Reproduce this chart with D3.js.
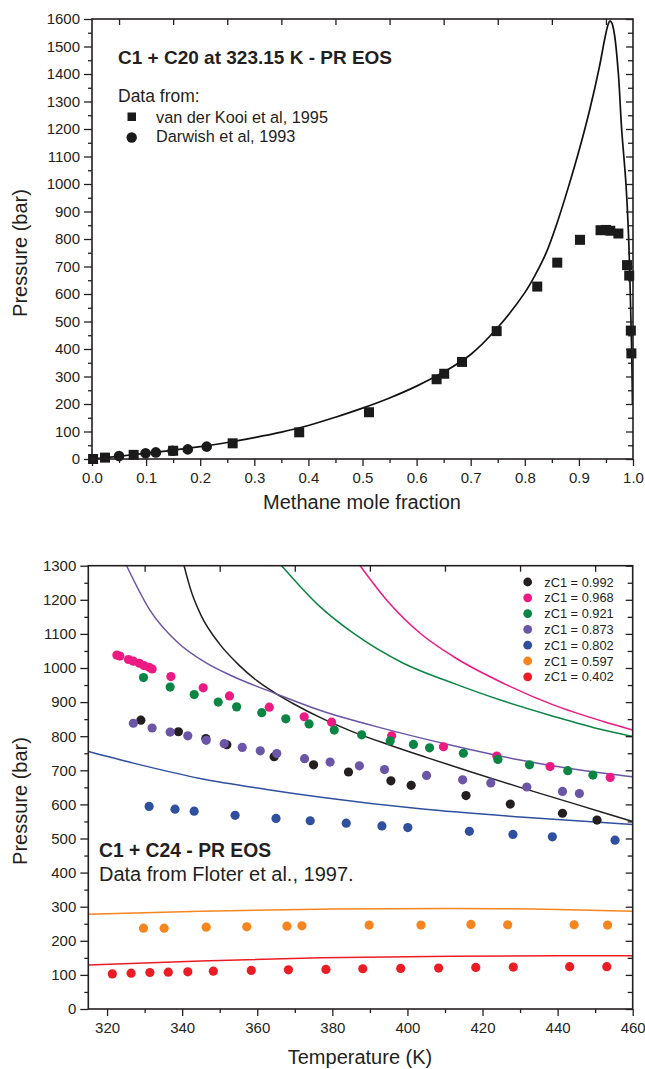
<!DOCTYPE html>
<html>
<head>
<meta charset="utf-8">
<script src="https://cdn.jsdelivr.net/npm/d3@7"></script>
<style>
  body { margin: 0; background: #fff; }
  svg { display: block; }
  text { font-family: "Liberation Sans", Arial, Helvetica, sans-serif; fill: #231f20; }
</style>
</head>
<body>
<svg id="fig" width="645" height="1069"></svg>
<script>
// ---------- Panel 1: C1 + C20 at 323.15 K ----------
// van der Kooi et al, 1995 (squares)
const kooiX = [0.002, 0.024, 0.077, 0.150, 0.260, 0.383, 0.512, 0.637, 0.651, 0.684, 0.748, 0.823, 0.860, 0.902, 0.940, 0.950, 0.958, 0.973, 0.989, 0.993, 0.996, 0.997];
const kooiP = [0, 5, 15, 30, 57, 97, 170, 290, 310, 353, 465, 627, 714, 797, 832, 833, 830, 820, 705, 667, 467, 384];
// Darwish et al, 1993 (circles)
const darwishX = [0.050, 0.099, 0.118, 0.149, 0.177, 0.212];
const darwishP = [11, 21, 24, 30, 35, 45];
// PR EOS phase envelope
const prC20X = [0, 0.05, 0.10, 0.15, 0.20, 0.25, 0.30, 0.35, 0.40, 0.45, 0.50, 0.55, 0.60, 0.65, 0.70, 0.75, 0.80, 0.82, 0.84, 0.86, 0.88, 0.90, 0.92, 0.938, 0.948, 0.954, 0.9575, 0.961, 0.966, 0.973, 0.979, 0.987, 0.992, 0.995, 0.9975, 0.999];
const prC20P = [0, 10, 21, 32, 45, 60, 78, 98, 122, 152, 185, 222, 265, 316, 380, 478, 605, 672, 752, 860, 985, 1120, 1270, 1427, 1530, 1580, 1593, 1585, 1540, 1400, 1200, 1000, 800, 600, 400, 200];

const p1XTicks = [0, 0.1, 0.2, 0.3, 0.4, 0.5, 0.6, 0.7, 0.8, 0.9, 1.0];
const p1YTicks = d3.range(0, 1601, 100);

// ---------- Panel 2: C1 + C24, Floter et al., 1997 ----------
const seriesNames = ["zC1 = 0.992", "zC1 = 0.968", "zC1 = 0.921", "zC1 = 0.873", "zC1 = 0.802", "zC1 = 0.597", "zC1 = 0.402"];
const seriesColors = ["#231f20", "#ec1a82", "#0b8543", "#6b55a6", "#2f4f9f", "#f6851f", "#ec1c24"];

// measured points (temperature K, pressure bar)
const expT992 = [329.0, 339.0, 346.3, 351.9, 364.5, 375.0, 384.3, 395.6, 401.0, 415.6, 427.4, 441.3, 450.5];
const expP992 = [847, 813, 793, 775, 740, 716, 695, 669, 656, 626, 601, 574, 554];
const expT968 = [322.6, 323.4, 325.7, 327.0, 328.6, 329.8, 331.2, 332.0, 337.0, 345.6, 352.6, 363.2, 372.5, 379.8, 395.8, 409.6, 423.8, 438.0, 454.0];
const expP968 = [1038, 1035, 1025, 1020, 1014, 1007, 1002, 997, 975, 942, 918, 885, 857, 841, 801, 769, 742, 711, 679];
const expT921 = [329.7, 336.8, 343.2, 349.6, 354.5, 361.2, 367.6, 373.8, 380.5, 387.8, 395.4, 401.6, 405.9, 414.9, 424.1, 432.5, 442.7, 449.4];
const expP921 = [972, 944, 922, 900, 886, 869, 851, 836, 818, 804, 786, 776, 766, 750, 732, 716, 699, 686];
const expT873 = [327.0, 332.0, 336.8, 341.5, 346.4, 351.2, 356.0, 360.8, 365.2, 372.6, 379.4, 387.2, 393.9, 405.1, 414.7, 422.2, 431.8, 441.3, 445.8];
const expP873 = [838, 824, 812, 801, 788, 778, 767, 757, 749, 734, 724, 713, 702, 685, 672, 663, 651, 638, 632];
const expT802 = [331.2, 338.1, 343.2, 354.1, 365.0, 374.1, 383.7, 393.2, 400.1, 416.5, 428.1, 438.6, 455.3];
const expP802 = [594, 586, 580, 568, 559, 552, 545, 537, 532, 521, 512, 505, 495];
const expT597 = [329.7, 335.2, 346.4, 357.2, 367.9, 371.9, 389.8, 403.6, 416.9, 426.7, 444.4, 453.3];
const expP597 = [237, 237, 240, 241, 243, 244, 246, 246, 248, 247, 247, 246];
const expT402 = [321.4, 326.4, 331.4, 336.3, 341.5, 348.3, 358.4, 368.3, 378.3, 388.1, 398.2, 408.3, 418.2, 428.2, 443.2, 453.1];
const expP402 = [103, 105, 107, 108, 109, 111, 113, 115, 116, 118, 119, 120, 122, 123, 124, 124];

// PR EOS predictions
const eosT992 = [340.5, 342.5, 345, 350, 355, 360, 365, 370, 376.7, 385, 395, 405, 417, 430, 445, 460];
const eosP992 = [1300, 1222, 1155, 1070, 1010, 962, 925, 893, 855, 815, 775, 738, 695, 650, 600, 550];
const eosT968 = [387.4, 394.5, 403.4, 412.3, 425.6, 439, 452.2, 460];
const eosP968 = [1300, 1199, 1102, 1033, 955, 891, 843, 818];
const eosT921 = [366.5, 376.7, 385.6, 398.9, 412.3, 425.6, 439, 452.2, 460];
const eosP921 = [1300, 1180, 1102, 1014, 955, 903, 858, 818, 799];
const eosT873 = [325.2, 331.4, 338.6, 346.5, 353.6, 365.6, 376.7, 394.5, 412.3, 430, 447.8, 460];
const eosP873 = [1300, 1170, 1077, 1014, 975, 922, 876, 820, 772, 730, 698, 681];
const eosT802 = [315, 327, 344.8, 362.5, 377, 403.4, 430, 460];
const eosP802 = [755, 721, 676, 644, 621, 587, 563, 541];
const eosT597 = [315, 345, 380, 412, 440, 460];
const eosP597 = [278, 287, 293, 295, 292, 287];
const eosT402 = [315, 345, 377, 412, 440, 460];
const eosP402 = [129, 141, 150, 155, 156, 156];

const p2XTicks = d3.range(320, 461, 20);
const p2YTicks = d3.range(0, 1301, 100);

// ---------- drawing helpers ----------
const svg = d3.select("#fig");
const ink = "#231f20";

function frame(g, x, y, o) {
  const [x0, x1] = x.range();
  const [y0, y1] = y.range();
  // ticks: outward on bottom & left, inward on top & right
  g.append("g").attr("transform", `translate(0,${y0})`)
    .call(d3.axisBottom(x).tickValues(o.xMinor).tickSize(4).tickFormat(""));
  g.append("g").attr("transform", `translate(0,${y0})`)
    .call(d3.axisBottom(x).tickValues(o.xMajor).tickSize(7).tickPadding(6).tickFormat(o.xFmt));
  g.append("g").attr("transform", `translate(${x0},0)`)
    .call(d3.axisLeft(y).tickValues(o.yMinor).tickSize(4).tickFormat(""));
  g.append("g").attr("transform", `translate(${x0},0)`)
    .call(d3.axisLeft(y).tickValues(o.yMajor).tickSize(8).tickPadding(4).tickFormat(d3.format("d")));
  g.append("g").attr("transform", `translate(0,${y1})`)
    .call(d3.axisTop(x).tickValues(o.xMinor).tickSize(-6).tickFormat(""));
  g.append("g").attr("transform", `translate(${x1},0)`)
    .call(d3.axisRight(y).tickValues(o.yMinor).tickSize(-5).tickFormat(""));
  g.append("g").attr("transform", `translate(${x1},0)`)
    .call(d3.axisRight(y).tickValues(o.yMajor).tickSize(-7).tickFormat(""));
  g.selectAll(".domain").remove();
  g.selectAll(".tick line").attr("stroke", ink).attr("stroke-width", 1.3);
  g.selectAll(".tick text").attr("font-size", 15).attr("fill", ink)
    .style("font-family", '"Liberation Sans", Arial, sans-serif');
  g.append("rect").attr("x", x0).attr("y", y1).attr("width", x1 - x0).attr("height", y0 - y1)
    .attr("fill", "none").attr("stroke", ink).attr("stroke-width", 1.6);
}

// ---------- Panel 1 ----------
{
  const x = d3.scaleLinear().domain([0, 1]).range([92, 633]);
  const y = d3.scaleLinear().domain([0, 1600]).range([459, 19]);
  const g = svg.append("g");

  g.append("defs").append("clipPath").attr("id", "clip1")
    .append("rect").attr("x", 92).attr("y", 19).attr("width", 541).attr("height", 440);

  const env = prC20X.map((v, i) => [v, prC20P[i]]);
  g.append("path").datum(env)
    .attr("clip-path", "url(#clip1)")
    .attr("d", d3.line().x(d => x(d[0])).y(d => y(d[1])).curve(d3.curveCatmullRom.alpha(0.5)))
    .attr("fill", "none").attr("stroke", "#111").attr("stroke-width", 1.7);

  const sq = 10;
  g.selectAll("rect.kooi").data(kooiX.map((v, i) => [v, kooiP[i]])).join("rect")
    .attr("class", "kooi")
    .attr("x", d => x(d[0]) - sq / 2).attr("y", d => y(d[1]) - sq / 2)
    .attr("width", sq).attr("height", sq).attr("fill", "#1a1a1a");
  g.selectAll("circle.dar").data(darwishX.map((v, i) => [v, darwishP[i]])).join("circle")
    .attr("class", "dar")
    .attr("cx", d => x(d[0])).attr("cy", d => y(d[1])).attr("r", 5.3).attr("fill", "#1a1a1a");

  frame(g, x, y, {
    xMajor: p1XTicks, xMinor: d3.range(0.05, 1, 0.1), xFmt: d3.format(".1f"),
    yMajor: p1YTicks, yMinor: d3.range(50, 1600, 100)
  });

  g.append("text").attr("x", 118).attr("y", 64).attr("font-size", 19).attr("font-weight", "bold")
    .text("C1 + C20 at 323.15 K - PR EOS");
  g.append("text").attr("x", 118).attr("y", 102).attr("font-size", 17.5).text("Data from:");
  g.append("rect").attr("x", 127.5).attr("y", 112.5).attr("width", 8.5).attr("height", 8.5).attr("fill", "#1a1a1a");
  g.append("text").attr("x", 156).attr("y", 122.5).attr("font-size", 16.3).text("van der Kooi et al, 1995");
  g.append("circle").attr("cx", 131.7).attr("cy", 137.5).attr("r", 5.2).attr("fill", "#1a1a1a");
  g.append("text").attr("x", 156).attr("y", 142).attr("font-size", 16.3).text("Darwish et al, 1993");

  g.append("text").attr("x", 362).attr("y", 509).attr("font-size", 20).attr("text-anchor", "middle")
    .text("Methane mole fraction");
  g.append("text").attr("transform", "translate(27,253) rotate(-90)").attr("font-size", 20)
    .attr("text-anchor", "middle").text("Pressure (bar)");
}

// ---------- Panel 2 ----------
{
  const x = d3.scaleLinear().domain([315, 460]).range([88.3, 632.7]);
  const y = d3.scaleLinear().domain([0, 1300]).range([1009, 565.7]);
  const g = svg.append("g");

  g.append("defs").append("clipPath").attr("id", "clip2")
    .append("rect").attr("x", 88.3).attr("y", 565.7).attr("width", 544.4).attr("height", 443.3);

  const eos = [
    [eosT992, eosP992], [eosT968, eosP968], [eosT921, eosP921], [eosT873, eosP873],
    [eosT802, eosP802], [eosT597, eosP597], [eosT402, eosP402]
  ];
  const exp = [
    [expT992, expP992], [expT968, expP968], [expT921, expP921], [expT873, expP873],
    [expT802, expP802], [expT597, expP597], [expT402, expP402]
  ];
  const line = d3.line().x(d => x(d[0])).y(d => y(d[1])).curve(d3.curveMonotoneX);

  eos.forEach(([T, P], i) => {
    g.append("path").datum(T.map((t, k) => [t, P[k]]))
      .attr("clip-path", "url(#clip2)")
      .attr("d", line).attr("fill", "none")
      .attr("stroke", seriesColors[i]).attr("stroke-width", 1.5);
  });

  exp.forEach(([T, P], i) => {
    g.append("g").selectAll("circle").data(T.map((t, k) => [t, P[k]])).join("circle")
      .attr("cx", d => x(d[0])).attr("cy", d => y(d[1])).attr("r", 4.6)
      .attr("fill", seriesColors[i]);
  });

  frame(g, x, y, {
    xMajor: p2XTicks, xMinor: d3.range(330, 460, 20), xFmt: d3.format("d"),
    yMajor: p2YTicks, yMinor: d3.range(50, 1300, 100)
  });

  // legend
  const lg = g.append("g");
  seriesNames.forEach((name, i) => {
    const cy = 582 + i * 15.8;
    lg.append("circle").attr("cx", 527.7).attr("cy", cy).attr("r", 4.4).attr("fill", seriesColors[i]);
    lg.append("text").attr("x", 544.3).attr("y", cy + 4.6).attr("font-size", 12.8).text(name);
  });

  g.append("text").attr("x", 99).attr("y", 856.5).attr("font-size", 19.3).attr("font-weight", "bold")
    .text("C1 + C24 - PR EOS");
  g.append("text").attr("x", 99).attr("y", 880.5).attr("font-size", 20)
    .text("Data from Floter et al., 1997.");

  g.append("text").attr("x", 360).attr("y", 1064).attr("font-size", 20).attr("text-anchor", "middle")
    .text("Temperature (K)");
  g.append("text").attr("transform", "translate(27,801) rotate(-90)").attr("font-size", 20)
    .attr("text-anchor", "middle").text("Pressure (bar)");
}
</script>
</body>
</html>
